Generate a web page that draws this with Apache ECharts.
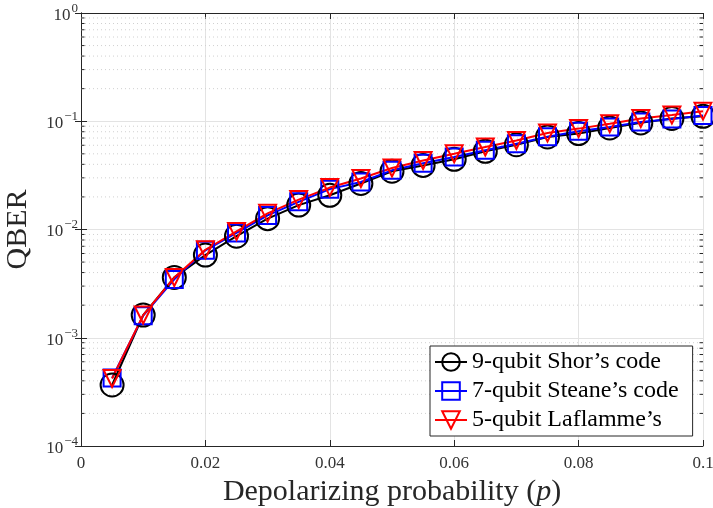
<!DOCTYPE html>
<html>
<head>
<meta charset="utf-8">
<script src="https://cdn.jsdelivr.net/npm/echarts@6/dist/echarts.min.js"></script>
<style>html,body{margin:0;padding:0;background:#fff;}#c{width:713px;height:508px;}</style>
</head>
<body>
<div id="c"></div>
<script>
const xVals = [0.005, 0.01, 0.015, 0.02, 0.025, 0.03, 0.035, 0.04, 0.045, 0.05,
               0.055, 0.06, 0.065, 0.07, 0.075, 0.08, 0.085, 0.09, 0.095, 0.1];
const shor = [3.66e-4, 1.62e-3, 3.61e-3, 5.8e-3, 8.67e-3, 1.26e-2, 1.68e-2, 2.07e-2, 2.66e-2, 3.45e-2,
              3.91e-2, 4.45e-2, 5.27e-2, 6.07e-2, 7.16e-2, 7.7e-2, 8.67e-2, 9.66e-2, 1.06e-1, 1.11e-1];
const steane = [4.25e-4, 1.6e-3, 3.46e-3, 6.43e-3, 9.3e-3, 1.35e-2, 1.8e-2, 2.36e-2, 2.75e-2, 3.52e-2,
                4.1e-2, 4.67e-2, 5.4e-2, 6.2e-2, 7.2e-2, 8.1e-2, 8.86e-2, 9.86e-2, 1.05e-1, 1.13e-1];
const laflamme = [4.2e-4, 1.62e-3, 3.6e-3, 6.5e-3, 9.6e-3, 1.41e-2, 1.89e-2, 2.44e-2, 2.96e-2, 3.7e-2,
                  4.34e-2, 5.0e-2, 5.78e-2, 6.65e-2, 7.8e-2, 8.55e-2, 9.5e-2, 1.06e-1, 1.14e-1, 1.24e-1];
const seriesNames = ["9-qubit Shor\u2019s code", "7-qubit Steane\u2019s code", "5-qubit Laflamme\u2019s"];
const xTickLabels = ["0", "0.02", "0.04", "0.06", "0.08", "0.1"];
const yDecades = [-4, -3, -2, -1, 0];
const minorMultipliers = [2, 3, 4, 5, 6, 7, 8, 9];

const FONT = "Liberation Serif";
const AX = "#262626";
const minorVals = [];
for (const e of yDecades.slice(0, -1)) for (const m of minorMultipliers) minorVals.push(m * Math.pow(10, e));

const chart = echarts.init(document.getElementById('c'), null, {renderer: 'canvas'});

function mkSeries(name, data, color, symbol, size, rotate) {
  return {
    name: name, type: 'line',
    data: xVals.map((x, i) => [x, data[i]]),
    symbol: symbol, symbolSize: size, symbolRotate: rotate || 0,
    showAllSymbol: true,
    lineStyle: {color: color, width: 2},
    itemStyle: {color: 'rgba(0,0,0,0)', borderColor: color, borderWidth: 2},
    emphasis: {disabled: true},
    z: 5, animation: false
  };
}

const option = {
  animation: false,
  backgroundColor: '#fff',
  grid: {left: 81, right: 10, top: 13, bottom: 62, containLabel: false, outerBoundsMode: 'none'},
  xAxis: [{
    type: 'value', min: 0, max: 0.1, interval: 0.02,
    name: '{n|Depolarizing probability (}{i|p}{n|)}',
    nameLocation: 'middle', nameGap: 27,
    nameTextStyle: {rich: {
      n: {fontFamily: FONT, fontSize: 30, color: AX},
      i: {fontFamily: FONT, fontSize: 30, color: AX, fontStyle: 'italic'}
    }},
    axisLine: {show: true, lineStyle: {color: AX, width: 1}},
    axisTick: {show: true, inside: true, length: 6, lineStyle: {color: AX}},
    axisLabel: {
      color: '#333', fontFamily: FONT, fontSize: 17, margin: 9,
      formatter: v => xTickLabels[Math.round(v / 0.02)]
    },
    splitLine: {show: true, lineStyle: {color: '#e3e3e3', width: 1}}
  }, {
    type: 'value', min: 0, max: 0.1, interval: 0.02, position: 'top',
    axisLine: {show: true, lineStyle: {color: AX, width: 1}},
    axisTick: {show: true, inside: true, length: 6, lineStyle: {color: AX}},
    axisLabel: {show: false}, splitLine: {show: false}
  }],
  yAxis: [{
    type: 'log', logBase: 10, min: 1e-4, max: 1,
    name: 'QBER', nameLocation: 'middle', nameGap: 48,
    nameTextStyle: {fontFamily: FONT, fontSize: 30, color: AX},
    axisLine: {show: true, lineStyle: {color: AX, width: 1}},
    axisTick: {show: true, inside: true, length: 6, lineStyle: {color: AX}},
    axisLabel: {
      margin: 3,
      formatter: v => {
        const e = Math.round(Math.log10(v));
        return '{b|10}{s|' + (e === 0 ? '0' : '\u2212' + (-e)) + '}';
      },
      rich: {
        b: {fontFamily: FONT, fontSize: 17, color: '#333', verticalAlign: 'bottom', padding: [0, 1, 0, 0]},
        s: {fontFamily: FONT, fontSize: 13, color: '#333', verticalAlign: 'bottom', padding: [0, 0, 9, 0]}
      }
    },
    splitLine: {show: true, lineStyle: {color: '#e3e3e3', width: 1}}
  }, {
    type: 'log', logBase: 10, min: 1e-4, max: 1, position: 'right',
    axisLine: {show: true, lineStyle: {color: AX, width: 1}},
    axisTick: {show: true, inside: true, length: 6, lineStyle: {color: AX}},
    axisLabel: {show: false}, splitLine: {show: false}
  }],
  legend: {
    data: seriesNames,
    orient: 'vertical', left: 430, top: 346,
    backgroundColor: '#fff', borderColor: AX, borderWidth: 1,
    padding: [4, 14, 4, 4], itemGap: 5,
    itemWidth: 32, itemHeight: 22,
    textStyle: {fontFamily: FONT, fontSize: 24, color: '#000'},
    selectedMode: false
  },
  series: [
    {
      type: 'custom', name: 'minor', silent: true, z: 1,
      data: minorVals.map(v => [0, v]),
      renderItem: (params, api) => {
        const v = api.value(1);
        const p0 = api.coord([0, v]);
        const p1 = api.coord([0.1, v]);
        return {
          type: 'group',
          children: [
            {type: 'line', shape: {x1: p0[0], y1: p0[1], x2: p1[0], y2: p1[1]},
             style: {stroke: '#d0d0d0', lineWidth: 1, lineDash: [1, 3]}},
            {type: 'line', shape: {x1: p0[0], y1: p0[1], x2: p0[0] + 3.5, y2: p0[1]},
             style: {stroke: AX, lineWidth: 1}},
            {type: 'line', shape: {x1: p1[0] - 3.5, y1: p1[1], x2: p1[0], y2: p1[1]},
             style: {stroke: AX, lineWidth: 1}}
          ]
        };
      },
      animation: false
    },
    mkSeries(seriesNames[0], shor, '#000000', 'circle', 23),
    mkSeries(seriesNames[1], steane, '#0000ff', 'rect', 17),
    mkSeries(seriesNames[2], laflamme, '#ff0000', 'triangle', 17, 180)
  ]
};
chart.setOption(option);
</script>
</body>
</html>
